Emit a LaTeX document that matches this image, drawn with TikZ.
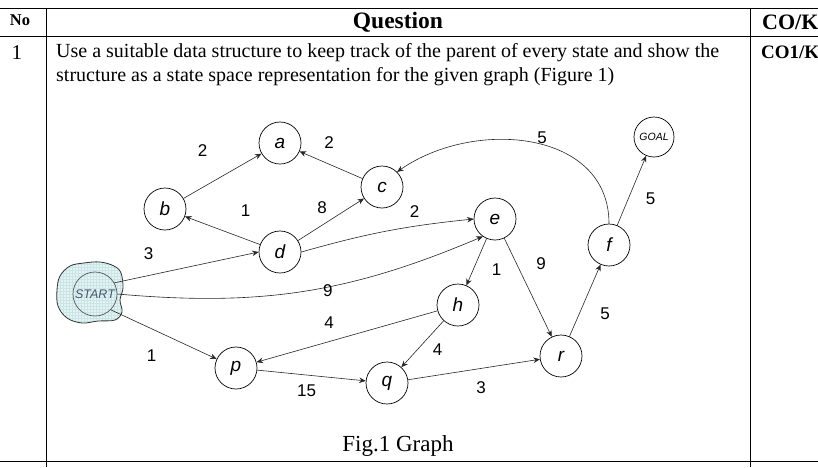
\documentclass[tikz,border=0pt]{standalone}
\usepackage{fontspec}
\setmainfont{Liberation Serif}
\setsansfont{Liberation Sans}
\usetikzlibrary{arrows.meta}

\definecolor{blobfill}{HTML}{E3F4F4}
\definecolor{blobgrid}{HTML}{CBE4E6}
\definecolor{startink}{HTML}{46566C}

\tikzset{
	vertex/.style={circle, draw, line width=0.7pt, minimum size=42pt, inner sep=0pt, font=\sffamily\itshape\fontsize{19}{19}\selectfont},
	link/.style={draw=black!85, line width=0.6pt, -{Stealth[length=6.5pt,width=5.5pt]}},
	wt/.style={font=\sffamily\fontsize{17}{17}\selectfont, inner sep=0pt},
	body/.style={anchor=base west, inner sep=0pt, font=\fontsize{20}{24}\selectfont},
	rule/.style={line width=0.8pt},
}

\begin{document}
\begin{tikzpicture}[x=1pt, y=1pt]

	\useasboundingbox (0,0) rectangle (818,-467);

	% Tableau
	\draw[rule] (0,-8) -- (818,-8);
	\draw[rule] (0,-36) -- (818,-36);
	\draw[rule] (0,-461) -- (818,-461);
	\draw[rule] (46,-8) -- (46,-467);
	\draw[rule] (750,-8) -- (750,-467);

	\node (hno) at (20,-20) {\bfseries\fontsize{16.5}{16.5}\selectfont No};
	\node (hq) at (398,-22) {\bfseries\fontsize{23.5}{23.5}\selectfont Question};
	\node[anchor=west, inner sep=0pt] (hco) at (762,-22) {\bfseries\fontsize{22}{22}\selectfont CO/K};
	\node (num) at (17,-53) {\fontsize{21}{21}\selectfont 1};
	\node[anchor=west, inner sep=0pt] (co) at (761,-52) {\bfseries\fontsize{19}{19}\selectfont CO1/K};
	\node[body] (txta) at (56,-57) {Use a suitable data structure to keep track of the parent of every state and show the};
	\node[body] (txtb) at (56,-81) {structure as a state space representation for the given graph (Figure 1)};
	\node (cap) at (398,-446) {\fontsize{23}{23}\selectfont Fig.1 Graph};

	% START
	\def\blob{plot[smooth cycle, tension=0.6] coordinates {(60,-276) (70,-266) (84,-263) (100,-262) (114,-266) (121,-273) (123,-288) (120,-300) (122,-312) (115,-320) (98,-321) (82,-323) (67,-318) (58,-306) (57,-290)}}
	\begin{scope}
		\clip \blob;
		\fill[blobfill] (50,-330) rectangle (130,-255);
		\draw[blobgrid, line width=0.15pt, step=3] (50,-330) grid (130,-255);
	\end{scope}
	\draw[line width=0.8pt, black!80] \blob;
	\node[circle, draw=black!65, line width=0.7pt, minimum size=44pt, inner sep=0pt, text=startink, font=\sffamily\itshape\fontsize{12.5}{12.5}\selectfont] (start) at (95,-294) {START};

	% Sommets
	\node[vertex] (a) at (280,-143) {a};
	\node[vertex] (b) at (165,-209) {b};
	\node[vertex] (c) at (382,-187) {c};
	\node[vertex] (d) at (280,-252) {d};
	\node[vertex] (e) at (495,-219) {e};
	\node[vertex] (f) at (609,-245) {f};
	\node[vertex, minimum size=40pt, font=\sffamily\itshape\fontsize{10.5}{10.5}\selectfont] (goal) at (654,-137) {GOAL};
	\node[vertex] (h) at (458,-305) {h};
	\node[vertex] (p) at (236,-368) {p};
	\node[vertex] (q) at (387,-383) {q};
	\node[vertex] (r) at (561,-356) {r};

	% Arcs
	\draw[link] (b) -- (a) node[wt, midway, xshift=-20, yshift=25] (wba) {2};
	\draw[link] (c) -- (a) node[wt, midway, xshift=-2, yshift=22] (wca) {2};
	\draw[link] (d) -- (b) node[wt, midway, xshift=23, yshift=20] (wdb) {1};
	\draw[link] (d) -- (c) node[wt, midway, xshift=-9, yshift=12] (wdc) {8};
	\draw[link] (d.east) to[bend left=5] node[wt, midway, xshift=28, yshift=20] (wde) {2} (e.west);
	\draw[link] (start.30) -- (d.west) node[wt, midway, xshift=-38, yshift=14] (wsd) {3};
	\draw[link] (start.east) to[bend right=14] node[wt, pos=0.57, yshift=-4] (wse) {9} (e.235);
	\draw[link] (start.-45) -- (p) node[wt, midway, xshift=-12, yshift=-21] (wsp) {1};
	\draw[link] (f.north) to[out=90, in=35, looseness=1.1] node[wt, pos=0.46, yshift=7] (wfc) {5} (c.45);
	\draw[link] (f) -- (goal) node[wt, midway, xshift=19, yshift=-8] (wfg) {5};
	\draw[link] (e) -- (h) node[wt, midway, xshift=20, yshift=-8] (weh) {1};
	\draw[link] (e) -- (r) node[wt, midway, xshift=13, yshift=24] (wer) {9};
	\draw[link] (r) -- (f) node[wt, midway, xshift=20, yshift=-13] (wrf) {5};
	\draw[link] (h) -- (p) node[wt, midway, xshift=-18, yshift=14] (whp) {4};
	\draw[link] (h) -- (q) node[wt, midway, xshift=15, yshift=-6] (whq) {4};
	\draw[link] (p) -- (q) node[wt, midway, xshift=-5, yshift=-15] (wpq) {15};
	\draw[link] (q) -- (r) node[wt, midway, xshift=7, yshift=-18] (wqr) {3};

\end{tikzpicture}
\end{document}
